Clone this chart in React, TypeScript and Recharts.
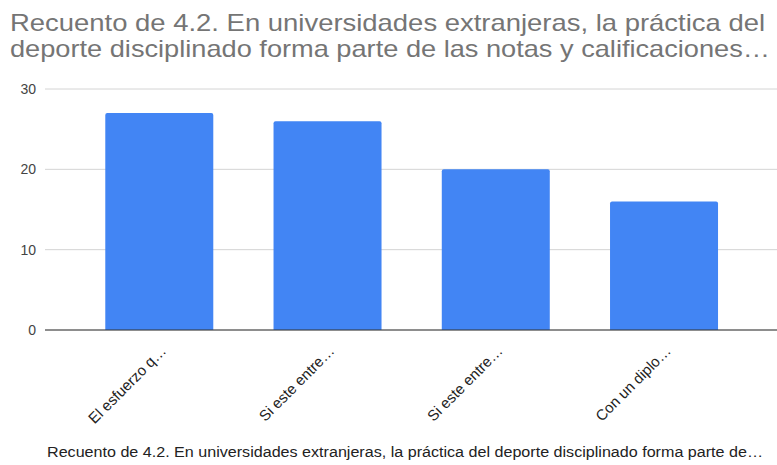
import React from "react";
import { BarChart, Bar, XAxis, YAxis, CartesianGrid } from "recharts";

const categories = ["El esfuerzo q…", "Si este entre…", "Si este entre…", "Con un diplo…"];
const counts = [27, 26, 20, 16];
const yTicks = [0, 10, 20, 30];

const titleLines = [
  "Recuento de 4.2. En universidades extranjeras, la práctica del",
  "deporte disciplinado forma parte de las notas y calificaciones…",
];
const xTitle =
  "Recuento de 4.2. En universidades extranjeras, la práctica del deporte disciplinado forma parte de…";

const data = categories.map((name, i) => ({ name: name + "#" + i, count: counts[i] }));

const FONT = "Arial, 'Liberation Sans', sans-serif";

const SlantTick = (props: any) => {
  const { x, y, index } = props;
  const tx = x + 8;
  const ty = y + 14;
  return (
    <text
      x={tx}
      y={ty}
      transform={`rotate(-45, ${tx}, ${ty})`}
      textAnchor="end"
      fontSize={15}
      fontFamily={FONT}
      fill="#222"
    >
      {categories[index]}
    </text>
  );
};

const App: React.FC = () => {
  return (
    <div style={{ position: "fixed", left: 0, top: 0, width: 777, height: 465, background: "#fff" }}>
      <BarChart
        width={777}
        height={465}
        data={data}
        margin={{ top: 89, right: 0, bottom: 0, left: 0 }}
        barCategoryGap="18%"
      >
        <CartesianGrid vertical={false} stroke="#d4d4d4" />
        <XAxis
          dataKey="name"
          height={135}
          padding={{ left: 30, right: 29 }}
          axisLine={{ stroke: "#333" }}
          tickLine={false}
          interval={0}
          tick={<SlantTick />}
        />
        <YAxis
          width={45}
          domain={[0, 30]}
          ticks={yTicks}
          axisLine={false}
          tickLine={false}
          tickSize={0}
          tickMargin={9}
          tick={{ fontSize: 14, fill: "#444", fontFamily: FONT }}
        />
        <Bar dataKey="count" fill="#4285f4" radius={[2, 2, 0, 0]} isAnimationActive={false} />
      </BarChart>
      <svg width={777} height={465} style={{ position: "absolute", left: 0, top: 0, pointerEvents: "none" }}>
        <text x={10} y={31} fontSize={24} fontFamily={FONT} fill="#757575" textLength={755} lengthAdjust="spacingAndGlyphs">
          {titleLines[0]}
        </text>
        <text x={10} y={57} fontSize={24} fontFamily={FONT} fill="#757575" textLength={760} lengthAdjust="spacingAndGlyphs">
          {titleLines[1]}
        </text>
        <text x={47} y={457} fontSize={14} fontFamily={FONT} fill="#222" textLength={716} lengthAdjust="spacingAndGlyphs">
          {xTitle}
        </text>
      </svg>
    </div>
  );
};

export default App;
